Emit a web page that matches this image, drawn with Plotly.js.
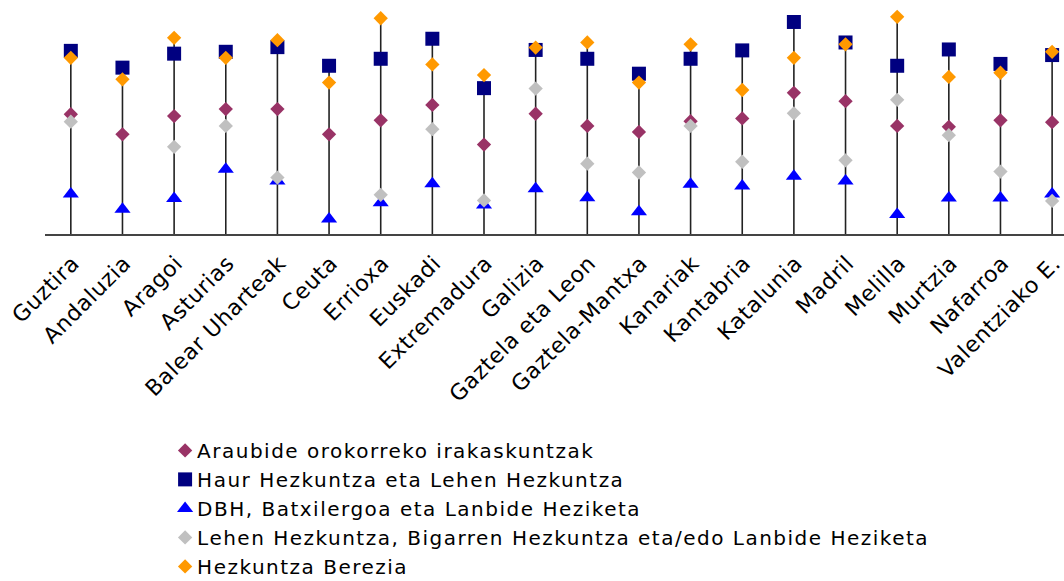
<!DOCTYPE html>
<html>
<head>
<meta charset="utf-8">
<script src="https://cdn.plot.ly/plotly-3.0.1.min.js"></script>
<style>
  html, body { margin: 0; padding: 0; background: #ffffff; }
  #chart { width: 1064px; height: 581px; }
  .legendtext { letter-spacing: 1.5px !important; }
  .xtick text { letter-spacing: 0.6px !important; }
  #chart .legend .legendpoints { transform: translateX(8px); }
</style>
</head>
<body>
<div id="chart"></div>
<script>
// Categories (regions)
const categories = [
  "Guztira", "Andaluzia", "Aragoi", "Asturias", "Balear Uharteak", "Ceuta",
  "Errioxa", "Euskadi", "Extremadura", "Galizia", "Gaztela eta Leon",
  "Gaztela-Mantxa", "Kanariak", "Kantabria", "Katalunia", "Madril",
  "Melilla", "Murtzia", "Nafarroa", "Valentziako E."
];

// Series names
const seriesNames = [
  "Araubide orokorreko irakaskuntzak",
  "Haur Hezkuntza eta Lehen Hezkuntza",
  "DBH, Batxilergoa eta Lanbide Heziketa",
  "Lehen Hezkuntza, Bigarren Hezkuntza eta/edo Lanbide Heziketa",
  "Hezkuntza Berezia"
];

// Values
const araubide = [65.7, 61.4, 65.3, 66.8, 66.8, 61.4, 64.4, 67.7, 59.2, 65.8, 63.2, 61.9, 64.2, 64.8, 70.3, 68.5, 63.2, 63.0, 64.4, 64.0];
const haurLehen = [79.3, 75.7, 78.7, 79.1, 80.1, 76.1, 77.6, 81.9, 71.3, 79.5, 77.6, 74.4, 77.6, 79.4, 85.5, 81.1, 76.1, 79.6, 76.5, 78.4];
const dbh = [48.6, 45.3, 47.6, 53.9, 51.4, 43.2, 46.7, 50.8, 46.2, 49.7, 47.8, 44.8, 50.7, 50.3, 52.4, 51.4, 44.2, 47.7, 47.7, 48.6];
const lehenBigarren = [64.1, null, 58.7, 63.2, 52.1, null, 48.4, 62.5, 47.2, 71.2, 55.1, 53.2, 63.2, 55.5, 65.9, 55.8, 68.8, 61.2, 53.4, 47.1];
const berezia = [77.8, 73.2, 82.1, 77.8, 81.6, 72.5, 86.3, 76.4, 74.1, 80.0, 81.1, 72.5, 80.7, 70.9, 77.8, 80.7, 86.6, 73.7, 74.6, 79.1];

const yMin = 40, yMax = 90;

// High-low lines from the axis up to the highest point of each category
const allSeries = [araubide, haurLehen, dbh, lehenBigarren, berezia];
const lineX = [], lineY = [];
categories.forEach((c, i) => {
  const vals = allSeries.map(s => s[i]).filter(v => v !== null);
  lineX.push(c, c, null);
  lineY.push(yMin, Math.max(...vals), null);
});

const traces = [
  {
    x: lineX, y: lineY, type: "scatter", mode: "lines",
    line: { color: "#222222", width: 1.6 },
    showlegend: false, hoverinfo: "skip", cliponaxis: false
  },
  {
    x: categories, y: araubide, name: seriesNames[0], type: "scatter", mode: "markers",
    marker: { symbol: "diamond", size: 11, color: "#993366" }, cliponaxis: false
  },
  {
    x: categories, y: haurLehen, name: seriesNames[1], type: "scatter", mode: "markers",
    marker: { symbol: "square", size: 14, color: "#000080" }, cliponaxis: false
  },
  {
    x: categories, y: dbh, name: seriesNames[2], type: "scatter", mode: "markers",
    marker: { symbol: "triangle-up", size: 14, color: "#0000FF" }, cliponaxis: false
  },
  {
    x: categories, y: lehenBigarren, name: seriesNames[3], type: "scatter", mode: "markers",
    marker: { symbol: "diamond", size: 11, color: "#C0C0C0" }, cliponaxis: false
  },
  {
    x: categories, y: berezia, name: seriesNames[4], type: "scatter", mode: "markers",
    marker: { symbol: "diamond", size: 11, color: "#FF9900" }, cliponaxis: false
  }
];

const layout = {
  width: 1064, height: 581,
  margin: { l: 45, r: 0, t: 1, b: 347, pad: 0, autoexpand: false },
  paper_bgcolor: "#ffffff", plot_bgcolor: "#ffffff",
  font: { family: "DejaVu Sans, Arial, sans-serif", color: "#000000" },
  showlegend: true,
  hovermode: false,
  xaxis: {
    type: "category",
    range: [-0.5, 19.23],
    showgrid: false, zeroline: false,
    showline: true, linecolor: "#444444", linewidth: 1.6,
    ticks: "", tickangle: -45,
    ticklabelshift: 2, ticklabelstandoff: 6,
    tickfont: { family: "DejaVu Sans, Arial, sans-serif", size: 22, color: "#000000" },
    automargin: false, fixedrange: true
  },
  yaxis: {
    range: [yMin, yMax],
    showgrid: false, zeroline: false, showline: false,
    showticklabels: false, ticks: "",
    automargin: false, fixedrange: true
  },
  legend: {
    x: 0.11, xanchor: "left",
    y: -0.845, yanchor: "top",
    orientation: "v",
    bgcolor: "rgba(0,0,0,0)",
    font: { family: "DejaVu Sans, Arial, sans-serif", size: 20, color: "#000000" },
    tracegroupgap: 0,
    itemwidth: 30
  }
};

Plotly.newPlot("chart", traces, layout, { displayModeBar: false, staticPlot: true });
</script>
</body>
</html>
